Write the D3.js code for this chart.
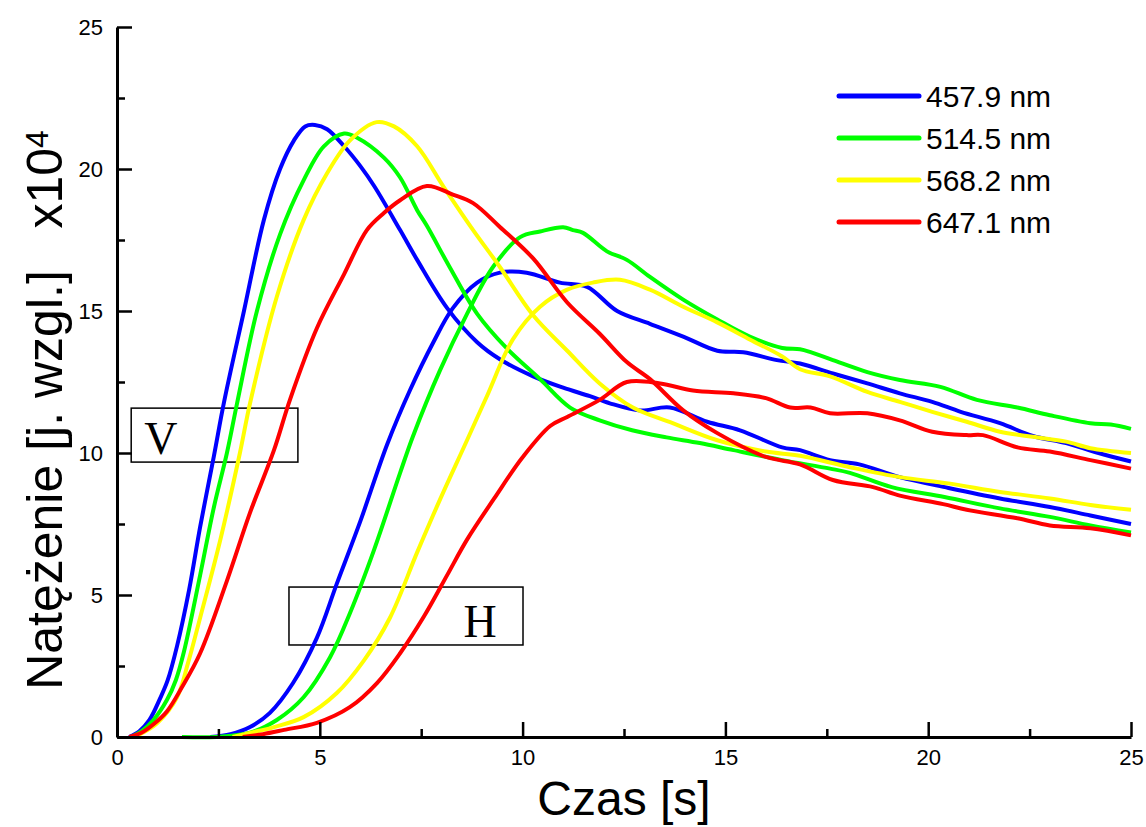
<!DOCTYPE html>
<html>
<head>
<meta charset="utf-8">
<script src="https://cdn.jsdelivr.net/npm/d3@7"></script>
<style>
  html, body { margin: 0; padding: 0; background: #fff; }
  svg { display: block; }
  text { font-family: "Liberation Sans", Arial, sans-serif; fill: #000; }
</style>
</head>
<body>
<svg id="chart" width="1146" height="827"></svg>
<script>
// Emission intensity vs time, two polarisations (V, H), four laser lines.
const seriesNames = ["457.9 nm", "514.5 nm", "568.2 nm", "647.1 nm"];
const seriesColors = ["#0000ff", "#00ff00", "#ffff00", "#ff0000"];

const xTicks = [0, 5, 10, 15, 20, 25];
const yTicks = [0, 5, 10, 15, 20, 25];
const xMinorTicks = [2.5, 7.5, 12.5, 17.5, 22.5];
const yMinorTicks = [2.5, 7.5, 12.5, 17.5, 22.5];

// [time s, intensity x10^4]
const blueV = [[0.3,0],[0.55,0.2],[0.8,0.6],[1.06,1.35],[1.25,2.0],[1.48,3.2],[1.78,5.2],[2.05,7.4],[2.39,9.9],[2.64,11.8],[3.13,15.0],[3.62,18.2],[4.02,20.0],[4.36,21.0],[4.64,21.5],[4.88,21.55],[5.18,21.4],[5.6,20.8],[6.0,20.1],[6.34,19.4],[6.98,17.85],[7.4,16.8],[8.14,15.1],[8.88,13.9],[9.44,13.3],[10.26,12.7],[11.0,12.3],[11.66,12.0],[12.15,11.75],[12.9,11.5],[13.63,11.6],[14.55,11.1],[15.36,10.8],[16.4,10.2],[16.84,10.1],[17.58,9.75],[18.3,9.6],[19.3,9.15],[20.5,8.77],[21.77,8.4],[23.0,8.1],[24.0,7.8],[25,7.5]];
const greenV = [[0.35,0],[0.6,0.2],[0.9,0.6],[1.23,1.3],[1.45,2.0],[1.65,3.0],[2.05,5.7],[2.39,8.1],[2.71,10.0],[2.96,11.75],[3.45,15.0],[4.02,17.7],[4.6,19.6],[5.1,20.8],[5.6,21.25],[5.92,21.1],[6.58,20.4],[6.98,19.7],[7.4,18.55],[7.64,18.0],[8.2,16.55],[8.88,14.9],[9.6,13.7],[10.43,12.6],[11.17,11.6],[11.9,11.15],[12.7,10.8],[13.55,10.55],[14.37,10.35],[15.2,10.1],[16.4,9.75],[17.58,9.45],[18.07,9.3],[19.1,8.8],[20.4,8.45],[21.77,8.05],[23.0,7.75],[24.0,7.45],[25,7.2]];
const yellowV = [[0.4,0],[0.7,0.2],[1.0,0.5],[1.48,1.4],[1.75,2.6],[2.05,4.2],[2.54,6.9],[3.03,10.0],[3.28,11.75],[3.94,15.5],[4.6,18.2],[5.18,19.85],[5.74,21.0],[6.4,21.65],[6.83,21.5],[7.4,20.8],[8.04,19.4],[8.78,17.85],[9.44,16.55],[10.26,14.85],[11.1,13.6],[11.9,12.45],[12.72,11.6],[13.7,11.05],[14.8,10.45],[16.0,10.05],[16.84,9.9],[18.07,9.5],[19.3,9.15],[20.5,8.93],[21.77,8.63],[23.0,8.4],[24.0,8.17],[25,8.0]];
const redV = [[0.3,0],[0.6,0.15],[0.9,0.45],[1.23,0.9],[1.6,1.75],[2.05,2.95],[2.71,5.5],[3.28,7.9],[3.87,10.1],[4.27,11.9],[4.93,14.4],[5.6,16.3],[6.16,17.85],[6.58,18.45],[6.98,18.9],[7.64,19.4],[8.28,19.1],[8.78,18.8],[9.44,17.96],[10.26,16.85],[11.1,15.3],[11.9,14.2],[12.57,13.2],[13.14,12.6],[13.96,11.5],[14.8,10.7],[16.0,9.86],[16.84,9.6],[17.65,9.05],[18.64,8.8],[19.3,8.5],[20.37,8.2],[20.95,8.0],[22.2,7.7],[23.0,7.45],[24.0,7.35],[25,7.1]];

const blueH = [[2.3,0],[2.8,0.1],[3.28,0.35],[3.77,0.85],[4.34,1.9],[4.93,3.5],[5.42,5.4],[6.0,7.6],[6.66,10.3],[7.22,12.2],[7.8,13.9],[8.28,15.1],[8.88,16.0],[9.44,16.35],[10.1,16.35],[10.92,16.0],[11.59,15.85],[12.33,15.0],[13.14,14.55],[13.96,14.1],[14.8,13.6],[15.44,13.55],[16.27,13.27],[16.84,13.15],[17.65,12.8],[18.5,12.45],[19.3,12.1],[20.1,11.8],[20.8,11.45],[21.77,11.05],[22.58,10.6],[23.4,10.35],[24.2,10.0],[25,9.7]];
const greenH = [[1.6,0],[2.45,0],[3.28,0.15],[3.94,0.6],[4.6,1.4],[5.25,2.8],[5.74,4.35],[6.34,6.6],[6.98,9.3],[7.3,10.6],[7.96,12.9],[8.63,14.9],[9.27,16.55],[9.94,17.6],[10.43,17.8],[11.0,17.95],[11.24,17.85],[11.49,17.75],[12.08,17.1],[12.57,16.8],[13.14,16.2],[13.96,15.4],[14.8,14.7],[15.6,14.1],[16.4,13.7],[16.84,13.65],[17.1,13.55],[17.65,13.27],[18.5,12.85],[19.3,12.57],[20.3,12.33],[21.2,11.87],[22.2,11.6],[23.0,11.33],[24.0,11.05],[24.5,11.0],[25,10.85]];
const yellowH = [[2.85,0],[3.3,0.15],[3.87,0.35],[4.6,0.7],[5.42,1.55],[6.09,2.7],[6.73,4.2],[7.4,6.5],[7.96,8.35],[8.63,10.45],[9.12,12.0],[9.76,14.0],[10.43,15.15],[11.1,15.75],[11.73,16.0],[12.4,16.1],[13.14,15.75],[13.96,15.15],[14.8,14.6],[15.6,14.0],[16.4,13.4],[16.84,12.95],[17.58,12.7],[18.5,12.15],[19.3,11.8],[20.1,11.45],[20.95,11.1],[21.77,10.75],[22.58,10.57],[23.4,10.4],[24.0,10.17],[25,10.0]];
const redH = [[3.1,0],[3.6,0.1],[4.12,0.25],[4.93,0.5],[5.74,1.05],[6.41,1.9],[6.98,2.95],[7.57,4.25],[8.14,5.7],[8.63,6.95],[9.3,8.4],[10.0,9.85],[10.68,10.95],[11.1,11.27],[11.9,11.87],[12.57,12.5],[13.39,12.45],[14.2,12.2],[15.2,12.1],[16.0,11.93],[16.6,11.6],[17.1,11.6],[17.58,11.4],[18.5,11.4],[19.3,11.15],[20.1,10.75],[20.95,10.63],[21.35,10.63],[22.2,10.2],[23.0,10.05],[24.0,9.75],[25,9.45]];

// Labelled boxes marking the two polarisation groups: [t0, t1, v0, v1]
const boxV = [0.35, 4.46, 9.68, 11.58];
const boxH = [4.24, 10.01, 3.24, 5.28];

const svg = d3.select("#chart");
const x = d3.scaleLinear().domain([0, 25]).range([117, 1131]);
const y = d3.scaleLinear().domain([0, 25]).range([737, 27]);

// Annotation boxes (behind curves)
function drawBox(b, label, labelT) {
  svg.append("rect")
    .attr("x", x(b[0])).attr("y", y(b[3]))
    .attr("width", x(b[1]) - x(b[0])).attr("height", y(b[2]) - y(b[3]))
    .attr("fill", "none").attr("stroke", "#000").attr("stroke-width", 1.5);
  svg.append("text")
    .attr("x", x(labelT)).attr("y", y(b[2]) - 8)
    .attr("text-anchor", "middle")
    .style("font-family", "'Liberation Serif', 'Times New Roman', serif")
    .style("font-size", "46px")
    .text(label);
}
drawBox(boxV, "V", 1.08);
drawBox(boxH, "H", 8.95);

// Curves
const line = d3.line().x(d => x(d[0])).y(d => y(d[1])).curve(d3.curveCatmullRom.alpha(0.5));
const groups = [[blueV, blueH], [greenV, greenH], [yellowV, yellowH], [redV, redH]];
groups.forEach((pair, i) => {
  pair.forEach(data => {
    svg.append("path").datum(data)
      .attr("d", line)
      .attr("fill", "none")
      .attr("stroke", seriesColors[i])
      .attr("stroke-width", 4)
      .attr("stroke-linejoin", "round");
  });
});

// Axes
const xAxis = svg.append("g").attr("transform", `translate(0,${y(0)})`)
  .call(d3.axisBottom(x).tickValues(xTicks).tickFormat(d3.format("d"))
    .tickSizeInner(-15).tickSizeOuter(0).tickPadding(12));
const xMinor = svg.append("g").attr("transform", `translate(0,${y(0)})`)
  .call(d3.axisBottom(x).tickValues(xMinorTicks).tickFormat("")
    .tickSizeInner(-8).tickSizeOuter(0));
const yAxis = svg.append("g").attr("transform", `translate(${x(0)},0)`)
  .call(d3.axisLeft(y).tickValues(yTicks).tickFormat(d3.format("d"))
    .tickSizeInner(-15).tickSizeOuter(0).tickPadding(14));
const yMinor = svg.append("g").attr("transform", `translate(${x(0)},0)`)
  .call(d3.axisLeft(y).tickValues(yMinorTicks).tickFormat("")
    .tickSizeInner(-8).tickSizeOuter(0));

[xAxis, xMinor, yAxis, yMinor].forEach(g => {
  g.select(".domain").attr("stroke", "#000").attr("stroke-width", 3);
  g.selectAll(".tick line").attr("stroke", "#000").attr("stroke-width", 2.5);
  g.selectAll(".tick text").style("font-family", "'Liberation Sans', Arial, sans-serif")
    .style("font-size", "22px").attr("fill", "#000");
});
xMinor.select(".domain").remove();
yMinor.select(".domain").remove();

// Axis titles
svg.append("text")
  .attr("x", (x(0) + x(25)) / 2).attr("y", 815)
  .attr("text-anchor", "middle")
  .style("font-size", "48px")
  .text("Czas [s]");

const yt = svg.append("text")
  .attr("transform", `translate(62,${(y(0) + y(25)) / 2 + 28}) rotate(-90)`)
  .attr("text-anchor", "middle")
  .style("font-size", "50px")
  .attr("xml:space", "preserve");
yt.append("tspan").text("Natężenie [j. wzgl.]   x10");
yt.append("tspan").attr("dy", "-0.45em").style("font-size", "32px").text("4");

// Legend
const legend = svg.append("g");
seriesNames.forEach((name, i) => {
  const ly = 96 + i * 42;
  legend.append("line")
    .attr("x1", 839).attr("x2", 919).attr("y1", ly).attr("y2", ly)
    .attr("stroke", seriesColors[i]).attr("stroke-width", 5)
    .attr("stroke-linecap", "round");
  legend.append("text")
    .attr("x", 926).attr("y", ly).attr("dy", "0.36em")
    .style("font-size", "30px")
    .text(name);
});
</script>
</body>
</html>
